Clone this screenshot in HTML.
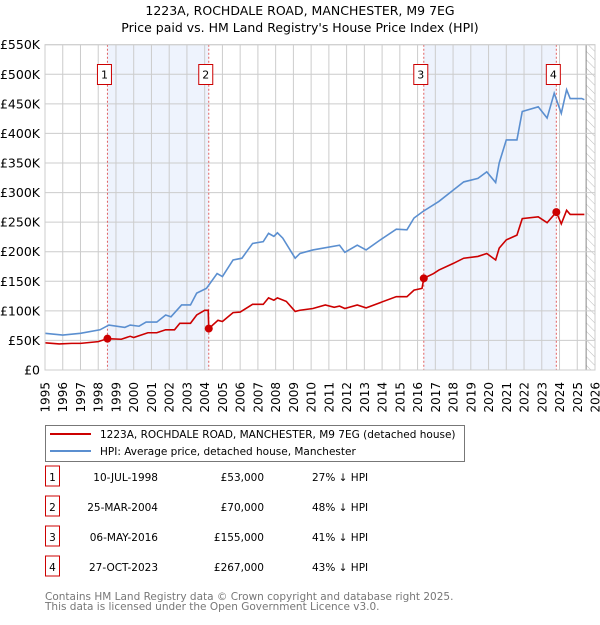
<!DOCTYPE html>
<html><head><meta charset="utf-8"><style>
body{margin:0;background:#fff;font-family:"Liberation Sans","DejaVu Sans",sans-serif;}
svg text{font-family:"DejaVu Sans","Liberation Sans",sans-serif;}
</style></head><body>
<svg id="chart" width="600" height="620" xmlns="http://www.w3.org/2000/svg">
<defs><pattern id="hatch" width="6" height="6" patternUnits="userSpaceOnUse" patternTransform="rotate(-45)"><line x1="0" y1="0" x2="0" y2="6" stroke="#bbb" stroke-width="1"/></pattern></defs>
<text x="300" y="15" text-anchor="middle" font-size="12.5">1223A, ROCHDALE ROAD, MANCHESTER, M9 7EG</text>
<text x="300" y="32" text-anchor="middle" font-size="12.5">Price paid vs. HM Land Registry's House Price Index (HPI)</text>
<g id="grid"></g><g id="marks"></g><g id="axes"></g>
<g>
<rect x="45.5" y="425.5" width="419" height="36" fill="#fff" stroke="#777"/>
<line x1="50" y1="434" x2="91" y2="434" stroke="#cc0000" stroke-width="2"/>
<text x="100" y="438" font-size="10.5">1223A, ROCHDALE ROAD, MANCHESTER, M9 7EG (detached house)</text>
<line x1="50" y1="451" x2="91" y2="451" stroke="#5b8fd0" stroke-width="2"/>
<text x="100" y="455" font-size="10.5">HPI: Average price, detached house, Manchester</text>
</g>
<g id="table" font-size="10.5"></g>
<text x="45" y="600" font-size="10.5" fill="#777">Contains HM Land Registry data © Crown copyright and database right 2025.</text>
<text x="45" y="610" font-size="10.5" fill="#777">This data is licensed under the Open Government Licence v3.0.</text>
</svg>
<script>
const hpiYears=[1995,1996,1997,1998.1,1998.6,1999.5,1999.8,2000.3,2000.7,2001.3,2001.8,2002.1,2002.7,2003.2,2003.55,2004.1,2004.7,2005.0,2005.6,2006.1,2006.7,2007.3,2007.6,2007.9,2008.1,2008.4,2009.1,2009.37,2010.1,2011.6,2011.9,2012.6,2013.1,2013.9,2014.8,2015.4,2015.8,2016.3,2017.2,2018.0,2018.6,2019.4,2019.9,2020.4,2020.6,2021.0,2021.6,2021.9,2022.8,2023.3,2023.7,2024.1,2024.4,2024.6,2025.25,2025.4];
const hpiValues=[62,59,62,68,76,72,76,74,81,81,93,90,110,110,130,138,163,158,186,189,214,217,231,226,232,223,189,197,203,211,199,211,203,220,238,237,257,268,285,304,318,324,335,317,350,389,389,437,445,426,468,434,474,459,459,457];
const ppYears=[1995,1995.8,1996.5,1997,1998,1998.52,1999.3,1999.8,2000.0,2000.8,2001.3,2001.8,2002.3,2002.6,2003.2,2003.55,2004.0,2004.2,2004.23,2004.75,2005.0,2005.6,2006.0,2006.7,2007.3,2007.6,2007.9,2008.1,2008.6,2009.1,2009.37,2010.1,2010.8,2011.3,2011.6,2011.9,2012.6,2013.1,2013.9,2014.8,2015.4,2015.8,2016.25,2016.35,2016.9,2017.2,2018.0,2018.6,2019.4,2019.9,2020.4,2020.6,2021.0,2021.6,2021.9,2022.8,2023.3,2023.82,2024.1,2024.4,2024.6,2025.4];
const ppValues=[46,44,45,45,48,53,52,57,55,63,63,68,68,79,79,93,101,101,70,84,82,97,98,111,111,122,118,122,116,99,101,104,110,106,108,104,110,105,114,124,124,135,138,155,163,169,180,189,192,197,186,206,220,228,256,259,249,267,247,270,263,263];
const saleYears=[1998.52,2004.23,2016.35,2023.82];
const saleValues=[53,70,155,267];
const saleLabels=["1","2","3","4"];
const saleDates=["10-JUL-1998","25-MAR-2004","06-MAY-2016","27-OCT-2023"];
const salePrices=["£53,000","£70,000","£155,000","£267,000"];
const saleDiffs=["27% ↓ HPI","48% ↓ HPI","41% ↓ HPI","43% ↓ HPI"];
const yTicks=[0,50,100,150,200,250,300,350,400,450,500,550];
const yTickLabels=["£0","£50K","£100K","£150K","£200K","£250K","£300K","£350K","£400K","£450K","£500K","£550K"];
const xTicks=[];for(let y=1995;y<=2026;y++)xTicks.push(y);

const NS="http://www.w3.org/2000/svg";
const L=45,R=595,T=44.7,B=370;
const xs=y=>L+(y-1995)*(R-L)/31;
const ys=v=>B-v*(B-T)/550;
function mk(tag,attrs,parent){const e=document.createElementNS(NS,tag);for(const k in attrs)e.setAttribute(k,attrs[k]);parent.appendChild(e);return e;}
const grid=document.getElementById('grid'),marks=document.getElementById('marks'),axes=document.getElementById('axes'),table=document.getElementById('table');
mk('rect',{x:L,y:T,width:R-L,height:B-T,fill:'#fff'},grid);
for(let i=0;i<saleYears.length;i+=2){
  const r=mk('rect',{x:xs(saleYears[i]),y:T,width:xs(saleYears[i+1])-xs(saleYears[i]),height:B-T,fill:'#eef3fd'},grid);
  
  
}
const hx=xs(2025.5);
const hr=mk('rect',{x:hx,y:T,width:R-hx,height:B-T,fill:'url(#hatch)'},grid);


mk('line',{x1:hx,y1:T,x2:hx,y2:B,stroke:'#888'},grid);
xTicks.forEach(y=>{mk('line',{x1:xs(y),y1:T,x2:xs(y),y2:B,stroke:'#ccc'},grid);
  const t=mk('text',{x:0,y:0,'font-size':12,'text-anchor':'end',transform:`translate(${xs(y)+4.5},${B+12}) rotate(-90)`},axes);
  t.textContent=y;
  
  });
yTicks.forEach((v,i)=>{mk('line',{x1:L,y1:ys(v),x2:R,y2:ys(v),stroke:'#ccc'},grid);
  const t=mk('text',{x:L-5,y:ys(v)+4.5,'font-size':12.5,'text-anchor':'end'},axes);
  t.textContent=yTickLabels[i];
  
  });
saleYears.forEach((y,i)=>{
  const l=mk('line',{x1:xs(y),y1:T,x2:xs(y),y2:B,stroke:'#e06060','stroke-dasharray':'2,2'},marks);
  
  
  const g=mk('g',{},marks);
  
  
  mk('rect',{x:xs(y)-10,y:64.5,width:14,height:20,fill:'#fff',stroke:'#cc0000'},g);
  const t=mk('text',{x:xs(y)-3,y:78.5,'font-size':11,'text-anchor':'middle'},g);t.textContent=saleLabels[i];
});
const hp=mk('polyline',{points:hpiYears.map((y,i)=>xs(y)+','+ys(hpiValues[i])).join(' '),fill:'none',stroke:'#5b8fd0','stroke-width':1.6},marks);


const pl=mk('polyline',{points:ppYears.map((y,i)=>xs(y)+','+ys(ppValues[i])).join(' '),fill:'none',stroke:'#cc0000','stroke-width':1.6},marks);


saleYears.forEach((y,i)=>{const c=mk('circle',{cx:xs(y),cy:ys(saleValues[i]),r:4,fill:'#cc0000'},marks);
  
  });
mk('rect',{x:L,y:T,width:R-L,height:B-T,fill:'none',stroke:'#ccc'},axes);
saleLabels.forEach((s,i)=>{const cy=483+i*30;
  const g=mk('g',{},table);
  
  
  mk('rect',{x:45.5,y:cy-17,width:14,height:20,fill:'#fff',stroke:'#cc0000'},g);
  let t=mk('text',{x:52.5,y:cy-2,'text-anchor':'middle'},g);t.textContent=s;
  t=mk('text',{x:158,y:cy-2,'text-anchor':'end'},g);t.textContent=saleDates[i];
  t=mk('text',{x:264,y:cy-2,'text-anchor':'end'},g);t.textContent=salePrices[i];
  t=mk('text',{x:312,y:cy-2},g);t.textContent=saleDiffs[i];
});
</script>
</body></html>
